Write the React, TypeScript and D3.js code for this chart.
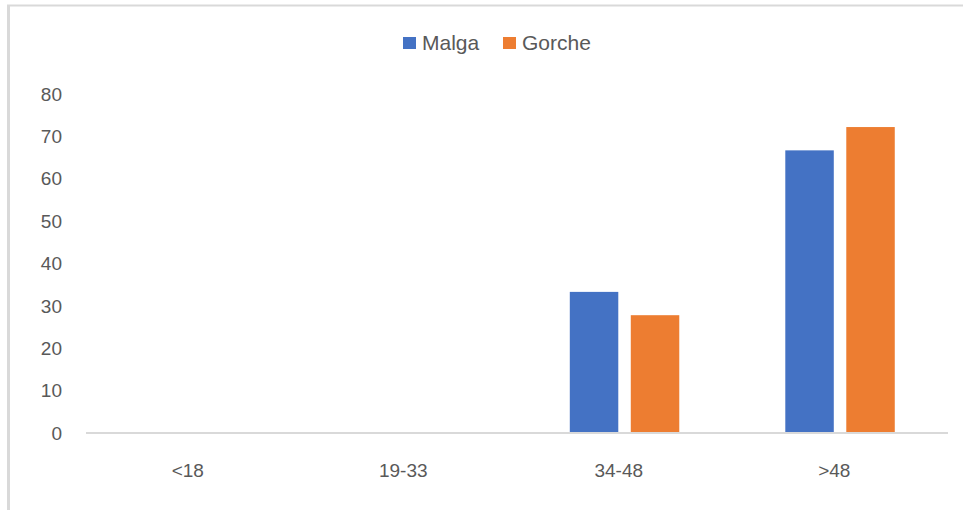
import React from "react";
import * as d3 from "d3";

const categories = ["<18", "19-33", "34-48", ">48"];
const seriesNames = ["Malga", "Gorche"];
const malga = [0, 0, 33.3, 66.7];
const gorche = [0, 0, 27.8, 72.2];
const yTicks = [0, 10, 20, 30, 40, 50, 60, 70, 80];
const colors = ["#4472C4", "#ED7D31"];

export default function App() {
  const W = 963, H = 510;
  const left = 86, right = 948, top = 94, bottom = 433;
  const x0 = d3.scaleBand<string>().domain(categories).range([left, right]).padding(0);
  const bw = x0.bandwidth();
  const x1 = d3.scaleBand<string>().domain(seriesNames).range([bw * 0.245, bw * 0.753]).paddingInner(0.205).paddingOuter(0);
  const y = d3.scaleLinear().domain([0, 80]).range([bottom, top]);
  const values = [malga, gorche];
  const font = "'Liberation Sans', Arial, sans-serif";
  const txt = "#595959";

  return (
    <svg width={W} height={H} style={{ position: "absolute", left: 0, top: 0, background: "#fff" }} fontFamily={font}>
      <rect x={0} y={0} width={W} height={H} fill="#fff" />
      {/* chart border */}
      <line x1={8.5} x2={8.5} y1={5} y2={H} stroke="#d9d9d9" strokeWidth={3} />
      <line x1={7} x2={W} y1={5.5} y2={5.5} stroke="#d9d9d9" strokeWidth={2} />
      {/* legend */}
      {seriesNames.map((s, i) => {
        const lx = i === 0 ? 403 : 503;
        return (
          <g key={s}>
            <rect x={lx} y={37} width={13} height={12} fill={colors[i]} />
            <text x={lx + 19} y={50} fontSize={21} fill={txt}>{s}</text>
          </g>
        );
      })}
      {/* y ticks */}
      {yTicks.map((t) => (
        <text key={t} x={62} y={y(t)} dy="0.35em" textAnchor="end" fontSize={19} fill={txt}>{t}</text>
      ))}
      {/* bars */}
      {categories.map((c, ci) => (
        <g key={c} transform={`translate(${x0(c)},0)`}>
          {seriesNames.map((s, si) => {
            const v = values[si][ci];
            if (v <= 0) return null;
            return (
              <rect key={s} x={x1(s)} y={y(v)} width={x1.bandwidth()} height={y(0) - y(v)} fill={colors[si]} />
            );
          })}
        </g>
      ))}
      {/* x axis */}
      <line x1={left} x2={right} y1={bottom} y2={bottom} stroke="#d9d9d9" strokeWidth={2} />
      {categories.map((c) => (
        <text key={c} x={(x0(c) as number) + bw / 2 - 6} y={477} textAnchor="middle" fontSize={19} fill={txt}>{c}</text>
      ))}
    </svg>
  );
}
